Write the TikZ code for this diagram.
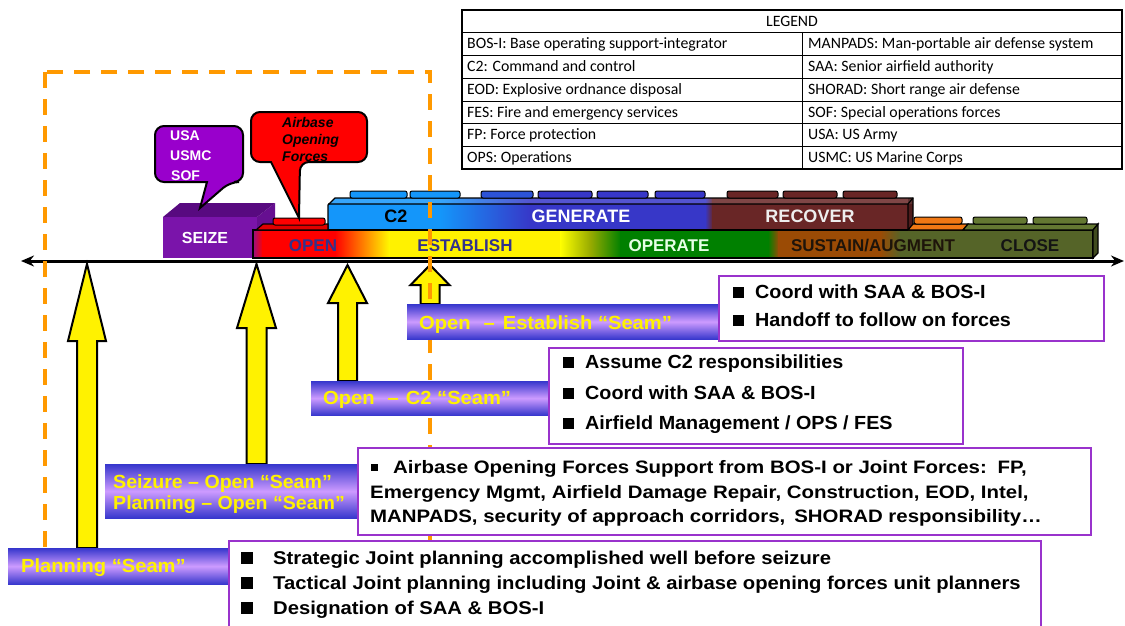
\documentclass[tikz,border=0pt]{standalone}
\usepackage{fontspec}
\setmainfont{Liberation Sans}
\newfontfamily\legfont{Carlito}
\newfontfamily\seamfont[FakeStretch=1.06]{Liberation Sans}
\newfontfamily\seamfontB[FakeStretch=1.03]{Liberation Sans}
\newfontfamily\boxfontA[FakeStretch=1.04]{Liberation Sans}
\newfontfamily\boxfontB[FakeStretch=1.135]{Liberation Sans}
\newfontfamily\boxfontC[FakeStretch=1.094]{Liberation Sans}
\usetikzlibrary{arrows.meta,calc}
\definecolor{seamblue}{RGB}{55,55,205}
\definecolor{seamlav}{RGB}{205,155,255}
\definecolor{boxpurple}{RGB}{153,51,204}
\definecolor{dashorange}{RGB}{255,153,0}
\definecolor{seizefront}{RGB}{122,20,170}
\definecolor{seizetop}{RGB}{88,10,128}
\definecolor{seizeside}{RGB}{102,15,145}
\definecolor{calloutpurple}{RGB}{153,0,204}
\definecolor{c2blue}{RGB}{20,150,250}
\definecolor{genblue}{RGB}{55,55,200}
\definecolor{recover}{RGB}{105,38,38}
\definecolor{sustain}{RGB}{155,75,5}
\definecolor{closeg}{RGB}{85,100,40}
\definecolor{operg}{RGB}{0,128,0}
\definecolor{opentext}{RGB}{50,50,140}
\definecolor{orangetop}{RGB}{240,120,20}
\definecolor{closetop}{RGB}{100,120,50}
\newcommand{\yellowarrow}[5]{%
  \path (#1 |- #2.north) coordinate (#1b);
  \filldraw[yarr] ($(#1b)+(-#3,0)$) -- ($(#1)+(-#3,#5)$) -- ($(#1)+(-#4,#5)$) -- (#1)
     -- ($(#1)+(#4,#5)$) -- ($(#1)+(#3,#5)$) -- ($(#1b)+(#3,0)$) -- cycle;}
\tikzset{
  legtext/.style={font=\legfont\fontsize{15.8}{18}\selectfont, anchor=west, inner sep=0pt, text height=10.2pt, text depth=0pt},
  blk/.style={draw=black, line width=1.2pt},
  stud/.style={draw=black, line width=1pt, rounded corners=2pt},
  tlabel/.style={font=\bfseries\fontsize{18}{20}\selectfont, inner sep=0pt, text height=12.9pt, text depth=0pt},
  llabel/.style={font=\bfseries\fontsize{17}{20}\selectfont, inner sep=0pt, text height=12.2pt, text depth=0pt},
  yarr/.style={fill=yellow, draw=black, line width=2pt, line join=miter},
  seam/.style={shade, top color=seamblue, bottom color=seamblue, middle color=seamlav, inner sep=0pt, anchor=north west},
  seamtext/.style={font=\seamfont\bfseries\fontsize{19}{22}\selectfont, text=yellow, anchor=west, inner sep=0pt, text height=13.6pt, text depth=0pt},
  infobox/.style={draw=boxpurple, line width=2pt, fill=white, inner sep=0pt, anchor=north west},
  btA/.style={font=\boxfontA\bfseries\fontsize{19}{22}\selectfont, anchor=west, inner sep=0pt, text height=13.6pt, text depth=0pt},
  btB/.style={font=\boxfontB\bfseries\fontsize{18}{22}\selectfont, anchor=west, inner sep=0pt, text height=12.9pt, text depth=0pt},
  btC/.style={font=\boxfontC\bfseries\fontsize{18.5}{22}\selectfont, anchor=west, inner sep=0pt, text height=13.2pt, text depth=0pt},
  bul/.style={fill=black, inner sep=0pt, minimum size=#1},
  orangedash/.style={draw=dashorange, line width=4pt, dash pattern=on 16pt off 11pt},
  callouttext/.style={font=\bfseries\fontsize{14}{16}\selectfont, anchor=west, inner sep=0pt, text height=10pt, text depth=0pt},
}
\begin{document}
\begin{tikzpicture}[x=1pt,y=-1pt]
\useasboundingbox (0,0) rectangle (1125,626);
\fill[white] (0,0) rectangle (1125,626);

% ---------------- legend
\draw[line width=0.8pt] (462,32) -- (1122,32);
\foreach \yy in {55,78,101,123,146} \draw[line width=0.8pt] (462,\yy) -- (1122,\yy);
\draw[line width=0.8pt] (802,32) -- (802,169);
\draw[line width=1.5pt] (462,10) rectangle (1122,169);
\node[font=\legfont\fontsize{15.8}{18}\selectfont, inner sep=0pt, text height=10.2pt, text depth=0pt] (lg0) at (792,21) {LEGEND};
\node[legtext] (la1) at (467,43.5) {BOS-I: Base operating support-integrator};
\node[legtext] (la2) at (467,66.5) {C2: Command and control};
\node[legtext] (la3) at (467,89.5) {EOD: Explosive ordnance disposal};
\node[legtext] (la4) at (467,112) {FES: Fire and emergency services};
\node[legtext] (la5) at (467,134.5) {FP: Force protection};
\node[legtext] (la6) at (467,157.5) {OPS: Operations};
\node[legtext] (lb1) at (808,43.5) {MANPADS: Man-portable air defense system};
\node[legtext] (lb2) at (808,66.5) {SAA: Senior airfield authority};
\node[legtext] (lb3) at (808,89.5) {SHORAD: Short range air defense};
\node[legtext] (lb4) at (808,112) {SOF: Special operations forces};
\node[legtext] (lb5) at (808,134.5) {USA: US Army};
\node[legtext] (lb6) at (808,157.5) {USMC: US Marine Corps};

% ---------------- SEIZE block
\fill[seizeside] (257,217) -- (275,203) -- (275,250) -- (257,258) -- cycle;
\fill[seizetop] (163,217) -- (180,203) -- (275,203) -- (257,217) -- cycle;
\fill[seizefront] (163,217) rectangle (257,258);
\node[tlabel, text=white, font=\bfseries\fontsize{16}{18}\selectfont, text height=11.5pt] (seize) at (205,238) {SEIZE};

% ---------------- upper bar
\begin{scope}
\clip (328,230) -- (328,205) -- (335,198) -- (913,198) -- (913,225) -- (908,230) -- cycle;
\fill[c2blue] (320,190) rectangle (441,235);
\shade[left color=c2blue, right color=genblue] (440,190) rectangle (531,235);
\fill[genblue] (530,190) rectangle (706,235);
\shade[left color=genblue, right color=recover] (705,190) rectangle (713,235);
\fill[recover] (712,190) rectangle (920,235);
\fill[white, opacity=0.15] (320,190) rectangle (920,204);
\fill[black, opacity=0.25] (908,190) rectangle (920,235);
\end{scope}
\draw[blk] (328,230) -- (328,205) -- (335,198) -- (913,198) -- (913,225) -- (908,230) -- cycle;
\draw[blk] (328,204) -- (908,204) -- (913,198) (908,204) -- (908,230);
% studs upper
\filldraw[stud, fill=c2blue] (350,191) rectangle (407,198);
\filldraw[stud, fill=c2blue] (410,191) rectangle (460,198);
\filldraw[stud, fill=c2blue!30!genblue] (481,191) rectangle (533,198);
\filldraw[stud, fill=genblue] (538,191) rectangle (592,198);
\filldraw[stud, fill=genblue] (597,191) rectangle (648,198);
\filldraw[stud, fill=genblue] (655,191) rectangle (705,198);
\filldraw[stud, fill=recover] (727,191) rectangle (778,198);
\filldraw[stud, fill=recover] (783,191) rectangle (837,198);
\filldraw[stud, fill=recover] (843,191) rectangle (897,198);

% ---------------- lower bar
\begin{scope}
\clip (253,230) rectangle (1093,258);
\shade[left color=seizefront, right color=red] (250,225) rectangle (263,262);
\fill[red] (262,225) rectangle (336,262);
\shade[left color=red, right color=yellow, middle color=orange] (335,225) rectangle (391,262);
\fill[yellow] (390,225) rectangle (561,262);
\shade[left color=yellow, right color=operg, middle color={rgb,255:red,150;green,170;blue,0}] (560,225) rectangle (621,262);
\fill[operg] (620,225) rectangle (769,262);
\shade[left color=operg, right color=sustain] (768,225) rectangle (779,262);
\fill[sustain] (778,225) rectangle (881,262);
\shade[left color=sustain, right color=closeg] (880,225) rectangle (901,262);
\fill[closeg] (900,225) rectangle (1100,262);
\end{scope}
\draw[blk] (253,230) rectangle (1093,258);
\filldraw[blk, fill=red!88!black] (256,230) -- (263,224) -- (328,224) -- (328,230) -- cycle;
\filldraw[stud, fill=red] (273,218) rectangle (325,225);
\filldraw[blk, fill=orangetop] (908,230) -- (913,224) -- (968,224) -- (963,230) -- cycle;
\filldraw[blk, fill=closetop] (963,230) -- (968,224) -- (1098,224) -- (1093,230) -- cycle;
\filldraw[blk, fill=closeg!75!black] (1093,230) -- (1098,224) -- (1098,253) -- (1093,258) -- cycle;
\filldraw[stud, fill=orangetop] (914,217) rectangle (962,224);
\filldraw[stud, fill=closetop] (973,217) rectangle (1027,224);
\filldraw[stud, fill=closetop] (1033,217) rectangle (1087,224);

% bar labels
\node[tlabel, text=black] (c2) at (396,216) {C2};
\node[tlabel, text=white] (gen) at (581,216) {GENERATE};
\node[tlabel, text={rgb,255:red,238;green,238;blue,238}] (rec) at (810,216) {RECOVER};
\node[llabel, text=opentext] (open) at (313,245) {OPEN};
\node[llabel, text=opentext] (est) at (465,245) {ESTABLISH};
\node[llabel, text={rgb,255:red,230;green,255;blue,230}] (oper) at (669,245) {OPERATE};
\node[llabel, text={rgb,255:red,30;green,20;blue,10}] (sus) at (873,245) {SUSTAIN/AUGMENT};
\node[llabel, text={rgb,255:red,20;green,20;blue,20}] (close) at (1030,245) {CLOSE};

% ---------------- callouts
\draw[fill=calloutpurple, line width=2pt] (155,150) [rounded corners=9pt]-- (155,126) -- (243,126) -- (243,182) -- (230,182) [sharp corners]-- (200,208) -- (207,182) [rounded corners=9pt]-- (155,182) -- cycle;
\node[callouttext, text=white] (usa) at (170,135) {USA};
\node[callouttext, text=white] (usmc) at (170,155) {USMC};
\node[callouttext, text=white] (sof) at (171,175) {SOF};
\draw[fill=red, line width=2pt] (251,140) [rounded corners=9pt]-- (251,112) -- (367,112) -- (367,162) -- (300,162) [sharp corners]-- (299,218) -- (271,162) [rounded corners=9pt]-- (251,162) -- cycle;
\node[callouttext, font=\bfseries\itshape\fontsize{14}{16}\selectfont] (abo1) at (282,123) {Airbase};
\node[callouttext, font=\bfseries\itshape\fontsize{14}{16}\selectfont] (abo2) at (282,139.5) {Opening};
\node[callouttext, font=\bfseries\itshape\fontsize{14}{16}\selectfont] (abo3) at (282,156) {Forces};

% ---------------- axis
\coordinate (axL) at (21,261);
\coordinate (axR) at (1124,261);
\draw[line width=3pt, {Stealth[length=13pt,width=11pt]}-{Stealth[length=13pt,width=11pt]}] (axL) -- (axR);

% ---------------- seam bars and boxes (nodes first, for arrow anchoring)
\coordinate (t1) at (87,264);
\coordinate (t2) at (256.5,264);
\coordinate (t3) at (347.5,265);
\coordinate (t4) at (430,265);
\path (8,548) coordinate (s1pos) (105,464) coordinate (s2pos) (311,381) coordinate (s3pos) (407,304) coordinate (s4pos);
\path (s1pos) node[anchor=north west, minimum width=220pt, minimum height=36pt, inner sep=0pt] (s1) {};
\path (s2pos) node[anchor=north west, minimum width=252pt, minimum height=54pt, inner sep=0pt] (s2) {};
\path (s3pos) node[anchor=north west, minimum width=237pt, minimum height=34pt, inner sep=0pt] (s3) {};
\path (s4pos) node[anchor=north west, minimum width=313pt, minimum height=35pt, inner sep=0pt] (s4) {};

\yellowarrow{t1}{s1}{10}{19}{77}
\yellowarrow{t2}{s2}{10}{19.5}{64}
\yellowarrow{t3}{s3}{9.5}{19.5}{38}
\yellowarrow{t4}{s4}{9.5}{19.5}{20}

% ---------------- dashed rectangle
\draw[orangedash] (45,72) rectangle (430,560);

% seam bars drawn
\node[seam, minimum width=220pt, minimum height=36pt] (s1f) at (s1pos) {};
\node[seam, minimum width=252pt, minimum height=54pt] (s2f) at (s2pos) {};
\node[seam, minimum width=237pt, minimum height=34pt] (s3f) at (s3pos) {};
\node[seam, minimum width=313pt, minimum height=35pt] (s4f) at (s4pos) {};
\node[seamtext] (s1t) at (21,566) {Planning “Seam”};
\node[seamtext, font=\seamfontB\bfseries\fontsize{19}{22}\selectfont] (s2ta) at (113,482) {Seizure – Open “Seam”};
\node[seamtext, font=\seamfontB\bfseries\fontsize{19}{22}\selectfont] (s2tb) at (113,503) {Planning – Open “Seam”};
\node[seamtext] (s3t) at (323,398) {Open\hspace{13pt}–\hspace{7pt}C2 “Seam”};
\node[seamtext] (s4t) at (419,323) {Open\hspace{13pt}–\hspace{8pt}Establish “Seam”};

% ---------------- info boxes
\node[infobox, minimum width=385pt, minimum height=65pt] (b1) at (718,275) {};
\node[bul=11pt] (b1u1) at (738.5,292) {};
\node[btA] (b1l1) at (755,292) {Coord with SAA \& BOS-I};
\node[bul=11pt] (b1u2) at (738.5,320) {};
\node[btA] (b1l2) at (755,320) {Handoff to follow on forces};

\node[infobox, minimum width=414pt, minimum height=96pt] (b2) at (548,347) {};
\node[bul=11pt] (b2u1) at (568,362) {};
\node[btA] (b2l1) at (585,362) {Assume C2 responsibilities};
\node[bul=11pt] (b2u2) at (568,393) {};
\node[btA] (b2l2) at (585,393) {Coord with SAA \& BOS-I};
\node[bul=11pt] (b2u3) at (568,423) {};
\node[btA] (b2l3) at (585,423) {Airfield Management / OPS / FES};

\node[infobox, minimum width=733pt, minimum height=87pt] (b3) at (357,447) {};
\node[bul=7pt] (b3u1) at (374,467) {};
\node[btB] (b3l1) at (393,467) {Airbase Opening Forces Support from BOS-I or Joint Forces:\hspace{0.6em}FP,};
\node[btB] (b3l2) at (370,492) {Emergency Mgmt, Airfield Damage Repair, Construction, EOD, Intel,};
\node[btB] (b3l3) at (370,516) {MANPADS, security of approach corridors,\hspace{0.5em}SHORAD responsibility…};

\node[infobox, minimum width=812pt, minimum height=100pt] (b4) at (228,540) {};
\node[bul=12pt] (b4u1) at (246.5,558) {};
\node[btC] (b4l1) at (273,558) {Strategic Joint planning accomplished well before seizure};
\node[bul=12pt] (b4u2) at (246.5,583) {};
\node[btC] (b4l2) at (273,583) {Tactical Joint planning including Joint \& airbase opening forces unit planners};
\node[bul=12pt] (b4u3) at (246.5,608) {};
\node[btC] (b4l3) at (273,608) {Designation of SAA \& BOS-I};
\end{tikzpicture}
\end{document}
